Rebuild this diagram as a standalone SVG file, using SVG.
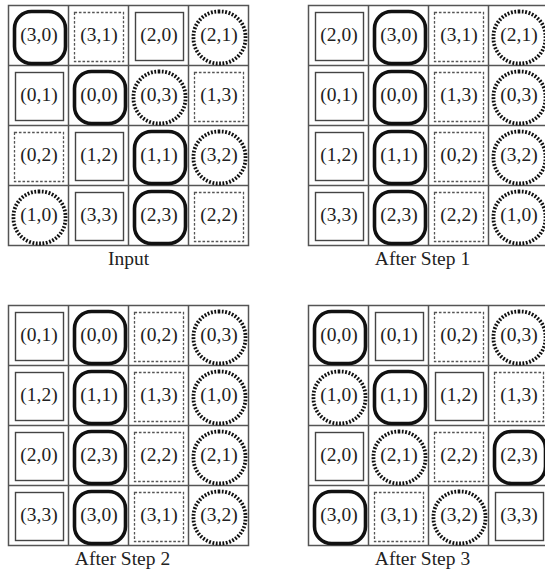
<svg xmlns="http://www.w3.org/2000/svg" width="545" height="570" viewBox="0 0 545 570">
<style>
.bg{fill:#fff}
.grid{fill:none;stroke:#555;stroke-width:1.5}
.S{fill:none;stroke:#444;stroke-width:1.4}
.D{fill:none;stroke:#555;stroke-width:1.3;stroke-dasharray:2.6 1.8}
.R{fill:none;stroke:#111;stroke-width:3.6}
.C{fill:none;stroke:#111;stroke-width:3.8;stroke-dasharray:1.8 1.6}
.t{font-family:"Liberation Serif","Times New Roman",serif;font-size:19.5px;fill:#222;text-anchor:middle}
.lbl{font-family:"Liberation Serif","Times New Roman",serif;font-size:19.5px;fill:#222;text-anchor:middle}
</style>
<defs>
<rect id="shS" class="S" x="7" y="7" width="48" height="48"/>
<rect id="shD" class="D" x="6" y="7" width="49" height="49"/>
<rect id="shR" class="R" x="6" y="6" width="51" height="52" rx="17"/>
<rect id="shC" class="C" x="5" y="6" width="52" height="52" rx="25"/>
<g id="gridlines">
<rect class="grid" x="0" y="0" width="240" height="240"/>
<path class="grid" d="M60 0V240M120 0V240M180 0V240M0 60H240M0 120H240M0 180H240"/>
</g>
</defs>
<rect class="bg" x="0" y="0" width="545" height="570"/>
<g id="connectors"/>

<!-- Input -->
<g id="input" transform="translate(8.5,5.5)">
<use href="#gridlines"/>
<g id="in-3-0" transform="translate(0,0)"><use href="#shR"/><text class="t" x="30.5" y="35">(3,0)</text></g>
<g id="in-3-1" transform="translate(60,0)"><use href="#shD"/><text class="t" x="30.5" y="35">(3,1)</text></g>
<g id="in-2-0" transform="translate(120,0)"><use href="#shS"/><text class="t" x="30.5" y="35">(2,0)</text></g>
<g id="in-2-1" transform="translate(180,0)"><use href="#shC"/><text class="t" x="30.5" y="35">(2,1)</text></g>
<g id="in-0-1" transform="translate(0,60)"><use href="#shS"/><text class="t" x="30.5" y="35">(0,1)</text></g>
<g id="in-0-0" transform="translate(60,60)"><use href="#shR"/><text class="t" x="30.5" y="35">(0,0)</text></g>
<g id="in-0-3" transform="translate(120,60)"><use href="#shC"/><text class="t" x="30.5" y="35">(0,3)</text></g>
<g id="in-1-3" transform="translate(180,60)"><use href="#shD"/><text class="t" x="30.5" y="35">(1,3)</text></g>
<g id="in-0-2" transform="translate(0,120)"><use href="#shD"/><text class="t" x="30.5" y="35">(0,2)</text></g>
<g id="in-1-2" transform="translate(60,120)"><use href="#shS"/><text class="t" x="30.5" y="35">(1,2)</text></g>
<g id="in-1-1" transform="translate(120,120)"><use href="#shR"/><text class="t" x="30.5" y="35">(1,1)</text></g>
<g id="in-3-2" transform="translate(180,120)"><use href="#shC"/><text class="t" x="30.5" y="35">(3,2)</text></g>
<g id="in-1-0" transform="translate(0,180)"><use href="#shC"/><text class="t" x="30.5" y="35">(1,0)</text></g>
<g id="in-3-3" transform="translate(60,180)"><use href="#shS"/><text class="t" x="30.5" y="35">(3,3)</text></g>
<g id="in-2-3" transform="translate(120,180)"><use href="#shR"/><text class="t" x="30.5" y="35">(2,3)</text></g>
<g id="in-2-2" transform="translate(180,180)"><use href="#shD"/><text class="t" x="30.5" y="35">(2,2)</text></g>
<text class="lbl" x="120" y="259">Input</text>
</g>

<!-- After Step 1 -->
<g id="step1" transform="translate(308.5,5.5)">
<use href="#gridlines"/>
<g id="s1-2-0" transform="translate(0,0)"><use href="#shS"/><text class="t" x="30.5" y="35">(2,0)</text></g>
<g id="s1-3-0" transform="translate(60,0)"><use href="#shR"/><text class="t" x="30.5" y="35">(3,0)</text></g>
<g id="s1-3-1" transform="translate(120,0)"><use href="#shD"/><text class="t" x="30.5" y="35">(3,1)</text></g>
<g id="s1-2-1" transform="translate(180,0)"><use href="#shC"/><text class="t" x="30.5" y="35">(2,1)</text></g>
<g id="s1-0-1" transform="translate(0,60)"><use href="#shS"/><text class="t" x="30.5" y="35">(0,1)</text></g>
<g id="s1-0-0" transform="translate(60,60)"><use href="#shR"/><text class="t" x="30.5" y="35">(0,0)</text></g>
<g id="s1-1-3" transform="translate(120,60)"><use href="#shD"/><text class="t" x="30.5" y="35">(1,3)</text></g>
<g id="s1-0-3" transform="translate(180,60)"><use href="#shC"/><text class="t" x="30.5" y="35">(0,3)</text></g>
<g id="s1-1-2" transform="translate(0,120)"><use href="#shS"/><text class="t" x="30.5" y="35">(1,2)</text></g>
<g id="s1-1-1" transform="translate(60,120)"><use href="#shR"/><text class="t" x="30.5" y="35">(1,1)</text></g>
<g id="s1-0-2" transform="translate(120,120)"><use href="#shD"/><text class="t" x="30.5" y="35">(0,2)</text></g>
<g id="s1-3-2" transform="translate(180,120)"><use href="#shC"/><text class="t" x="30.5" y="35">(3,2)</text></g>
<g id="s1-3-3" transform="translate(0,180)"><use href="#shS"/><text class="t" x="30.5" y="35">(3,3)</text></g>
<g id="s1-2-3" transform="translate(60,180)"><use href="#shR"/><text class="t" x="30.5" y="35">(2,3)</text></g>
<g id="s1-2-2" transform="translate(120,180)"><use href="#shD"/><text class="t" x="30.5" y="35">(2,2)</text></g>
<g id="s1-1-0" transform="translate(180,180)"><use href="#shC"/><text class="t" x="30.5" y="35">(1,0)</text></g>
<text class="lbl" x="114" y="259">After Step 1</text>
</g>

<!-- After Step 2 -->
<g id="step2" transform="translate(8.5,305.5)">
<use href="#gridlines"/>
<g id="s2-0-1" transform="translate(0,0)"><use href="#shS"/><text class="t" x="30.5" y="35">(0,1)</text></g>
<g id="s2-0-0" transform="translate(60,0)"><use href="#shR"/><text class="t" x="30.5" y="35">(0,0)</text></g>
<g id="s2-0-2" transform="translate(120,0)"><use href="#shD"/><text class="t" x="30.5" y="35">(0,2)</text></g>
<g id="s2-0-3" transform="translate(180,0)"><use href="#shC"/><text class="t" x="30.5" y="35">(0,3)</text></g>
<g id="s2-1-2" transform="translate(0,60)"><use href="#shS"/><text class="t" x="30.5" y="35">(1,2)</text></g>
<g id="s2-1-1" transform="translate(60,60)"><use href="#shR"/><text class="t" x="30.5" y="35">(1,1)</text></g>
<g id="s2-1-3" transform="translate(120,60)"><use href="#shD"/><text class="t" x="30.5" y="35">(1,3)</text></g>
<g id="s2-1-0" transform="translate(180,60)"><use href="#shC"/><text class="t" x="30.5" y="35">(1,0)</text></g>
<g id="s2-2-0" transform="translate(0,120)"><use href="#shS"/><text class="t" x="30.5" y="35">(2,0)</text></g>
<g id="s2-2-3" transform="translate(60,120)"><use href="#shR"/><text class="t" x="30.5" y="35">(2,3)</text></g>
<g id="s2-2-2" transform="translate(120,120)"><use href="#shD"/><text class="t" x="30.5" y="35">(2,2)</text></g>
<g id="s2-2-1" transform="translate(180,120)"><use href="#shC"/><text class="t" x="30.5" y="35">(2,1)</text></g>
<g id="s2-3-3" transform="translate(0,180)"><use href="#shS"/><text class="t" x="30.5" y="35">(3,3)</text></g>
<g id="s2-3-0" transform="translate(60,180)"><use href="#shR"/><text class="t" x="30.5" y="35">(3,0)</text></g>
<g id="s2-3-1" transform="translate(120,180)"><use href="#shD"/><text class="t" x="30.5" y="35">(3,1)</text></g>
<g id="s2-3-2" transform="translate(180,180)"><use href="#shC"/><text class="t" x="30.5" y="35">(3,2)</text></g>
<text class="lbl" x="114" y="259">After Step 2</text>
</g>

<!-- After Step 3 -->
<g id="step3" transform="translate(308.5,305.5)">
<use href="#gridlines"/>
<g id="s3-0-0" transform="translate(0,0)"><use href="#shR"/><text class="t" x="30.5" y="35">(0,0)</text></g>
<g id="s3-0-1" transform="translate(60,0)"><use href="#shS"/><text class="t" x="30.5" y="35">(0,1)</text></g>
<g id="s3-0-2" transform="translate(120,0)"><use href="#shD"/><text class="t" x="30.5" y="35">(0,2)</text></g>
<g id="s3-0-3" transform="translate(180,0)"><use href="#shC"/><text class="t" x="30.5" y="35">(0,3)</text></g>
<g id="s3-1-0" transform="translate(0,60)"><use href="#shC"/><text class="t" x="30.5" y="35">(1,0)</text></g>
<g id="s3-1-1" transform="translate(60,60)"><use href="#shR"/><text class="t" x="30.5" y="35">(1,1)</text></g>
<g id="s3-1-2" transform="translate(120,60)"><use href="#shS"/><text class="t" x="30.5" y="35">(1,2)</text></g>
<g id="s3-1-3" transform="translate(180,60)"><use href="#shD"/><text class="t" x="30.5" y="35">(1,3)</text></g>
<g id="s3-2-0" transform="translate(0,120)"><use href="#shS"/><text class="t" x="30.5" y="35">(2,0)</text></g>
<g id="s3-2-1" transform="translate(60,120)"><use href="#shC"/><text class="t" x="30.5" y="35">(2,1)</text></g>
<g id="s3-2-2" transform="translate(120,120)"><use href="#shD"/><text class="t" x="30.5" y="35">(2,2)</text></g>
<g id="s3-2-3" transform="translate(180,120)"><use href="#shR"/><text class="t" x="30.5" y="35">(2,3)</text></g>
<g id="s3-3-0" transform="translate(0,180)"><use href="#shR"/><text class="t" x="30.5" y="35">(3,0)</text></g>
<g id="s3-3-1" transform="translate(60,180)"><use href="#shD"/><text class="t" x="30.5" y="35">(3,1)</text></g>
<g id="s3-3-2" transform="translate(120,180)"><use href="#shC"/><text class="t" x="30.5" y="35">(3,2)</text></g>
<g id="s3-3-3" transform="translate(180,180)"><use href="#shS"/><text class="t" x="30.5" y="35">(3,3)</text></g>
<text class="lbl" x="114" y="259">After Step 3</text>
</g>
</svg>
